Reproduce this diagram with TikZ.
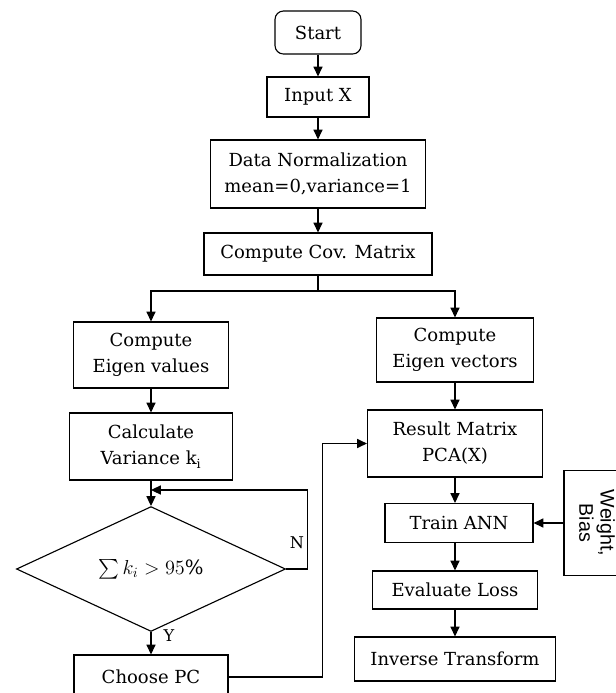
\documentclass[tikz,border=0pt]{standalone}
\usepackage{amsmath}
\usepackage{amssymb}
\usepackage{xcolor}
\usepackage{fontspec}
\setmainfont{DejaVu Serif}
\newfontfamily\wbfont{Liberation Sans}
\usetikzlibrary{shapes.geometric,arrows.meta}
\tikzset{
  >={Triangle[length=7pt,width=6.5pt]},
  flowline/.style={black, line width=0.8pt},
  procbox/.style={draw, flowline, align=center, inner sep=2pt,
    font=\fontsize{12.8}{18.5}\selectfont},
  startbox/.style={procbox, rounded corners=6pt},
  decbox/.style={procbox, shape=diamond, inner sep=0pt, font=\fontsize{14}{16}\selectfont},
  flowlabel/.style={font=\fontsize{11.5}{13}\selectfont}
}

\begin{document}
\begin{tikzpicture}[x=0.025cm,y=-0.025cm]
\useasboundingbox (0,0) rectangle (616,693);
% main column
\node[startbox, minimum width=2.15cm, minimum height=1.075cm] (start) at (318,32.5) {Start};
\node[procbox, minimum width=2.55cm, minimum height=1.0cm] (input) at (318,97) {Input X};
\node[procbox, minimum width=5.375cm, minimum height=1.7cm] (norm) at (318,174) {Data Normalization\\mean=0,variance=1};
\node[procbox, minimum width=5.7cm, minimum height=1.05cm] (cov) at (318,254) {Compute Cov. Matrix};
\coordinate (split) at (318,291);
% left branch
\node[procbox, minimum width=3.875cm, minimum height=1.65cm] (eigval) at (151,355) {Compute\\Eigen values};
\node[procbox, minimum width=4.075cm, minimum height=1.675cm] (var) at (151,446.5) {Calculate\\Variance k\textsubscript{i}};
\coordinate (loop) at (151,490);
\node[decbox, minimum width=6.725cm, minimum height=2.825cm] (check) at (151,569) {$\textstyle\sum k_i > 95\%$};
\node[procbox, minimum width=3.85cm, minimum height=1.1cm] (choose) at (151,677) {Choose PC};
\node[flowlabel] (nlab) at (297,543) {N};
\node[flowlabel] (ylab) at (169,636) {Y};
% right branch
\node[procbox, minimum width=3.925cm, minimum height=1.6cm] (eigvec) at (455,350) {Compute\\Eigen vectors};
\node[procbox, minimum width=4.375cm, minimum height=1.675cm] (result) at (455,443.5) {Result Matrix\\PCA(X)};
\node[procbox, minimum width=3.7cm, minimum height=0.975cm] (train) at (459,523) {Train ANN};
\node[procbox, rotate=-90, font=\wbfont\fontsize{14}{15}\selectfont, minimum width=2.625cm, minimum height=1.65cm] (weight) at (597,523) {Weight,\\Bias};
\node[procbox, minimum width=4.125cm, minimum height=0.95cm] (eval) at (455,590) {Evaluate Loss};
\node[procbox, minimum width=5.025cm, minimum height=1.1cm] (inv) at (455,659) {Inverse Transform};

\draw[flowline,->] (start) -- (input);
\draw[flowline,->] (input) -- (norm);
\draw[flowline,->] (norm) -- (cov);
\draw[flowline] (cov) -- (split);
\draw[flowline,->] (split) -| (eigval);
\draw[flowline,->] (split) -| (eigvec);
\draw[flowline,->] (eigval) -- (var);
\draw[flowline,->] (var) -- (check);
\draw[flowline,->] (check.east) -- ++(21,0) |- (loop);
\draw[flowline,->] (check) -- (choose);
\draw[flowline,->] (choose.east) -- ++(94,0) |- (result.west);
\draw[flowline,->] (eigvec) -- (result);
\draw[flowline,->] (result.south) -- (result.south |- train.north);
\draw[flowline,->] (weight) -- (train);
\draw[flowline,->] (train.south -| eval.north) -- (eval);
\draw[flowline,->] (eval) -- (inv);
\end{tikzpicture}
\end{document}
